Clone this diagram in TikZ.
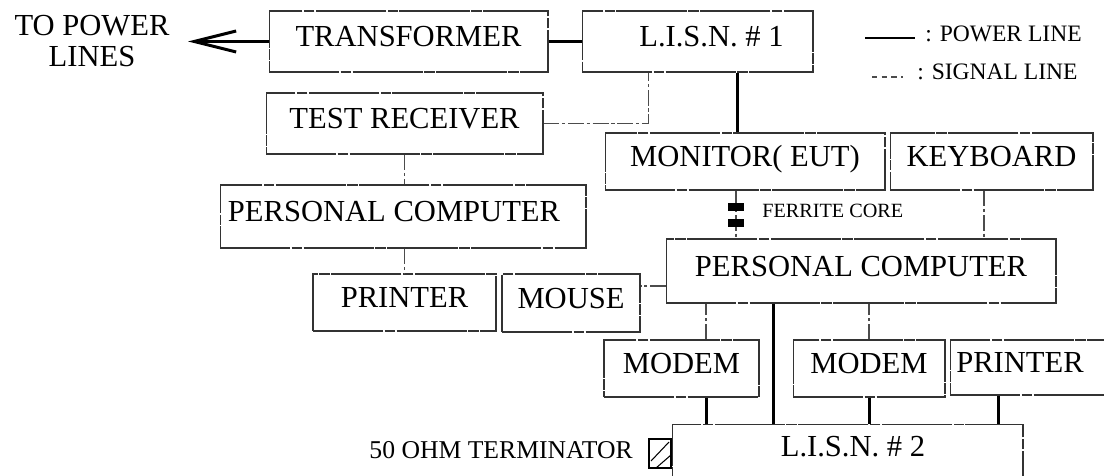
\documentclass[tikz,border=0pt]{standalone}
\usepackage{fontspec}
\setmainfont{Liberation Serif}
\usetikzlibrary{arrows.meta,calc}
\newcommand{\boxfont}{\fontsize{17.4pt}{17.6pt}\selectfont}
\newcommand{\legfont}{\fontsize{13.4pt}{16pt}\selectfont}
\newcommand{\termfont}{\fontsize{14.6pt}{16pt}\selectfont}
\newcommand{\corefont}{\fontsize{11.5pt}{14pt}\selectfont}

\begin{document}
\begin{tikzpicture}[x=0.02cm, y=-0.02cm]
    \tikzstyle{every node}=[inner sep=0pt, font=\boxfont]
    \tikzstyle{box}=[draw=black!80, line width=0.6pt,
                     dash pattern=on 40pt off 0.8pt on 6pt off 0.8pt,
                     text height=12pt, text depth=6pt]
    \tikzstyle{power}=[line width=1.7pt]
    \tikzstyle{signal}=[draw=black!70, line width=0.6pt,
                        dash pattern=on 9pt off 1.5pt on 2pt off 1.5pt]
    \tikzstyle{core}=[fill=black, minimum width=0.32cm, minimum height=0.18cm]

    \useasboundingbox (0,0) rectangle (1104,476);

      \node[box, minimum width=5.58cm, minimum height=1.22cm] (tr) at (408.5,41.5) {TRANSFORMER};
      \node[box, minimum width=4.62cm, minimum height=1.22cm] (lisn1) at (697.5,41.5) {\hspace*{0.56cm}L.I.S.N. \# 1};
      \node[box, minimum width=5.54cm, minimum height=1.22cm] (rcv) at (404.5,123.5) {TEST RECEIVER};
      \node[box, minimum width=5.6cm, minimum height=1.14cm] (mon) at (745,161.5) {MONITOR( EUT)};
      \node[box, minimum width=4.06cm, minimum height=1.14cm] (kbd) at (991.5,161.5) {KEYBOARD};
      \node[box, minimum width=7.32cm, minimum height=1.26cm] (pca) at (403,216.5) {PERSONAL COMPUTER\hspace*{0.36cm}};
      \node[box, minimum width=3.66cm, minimum height=1.14cm] (pra) at (404.5,302.5) {PRINTER};
      \node[box, minimum width=2.76cm, minimum height=1.16cm] (mouse) at (571,303) {MOUSE};
      \node[box, minimum width=7.8cm, minimum height=1.28cm] (pcb) at (861,271) {PERSONAL COMPUTER};
      \node[box, minimum width=3.1cm, minimum height=1.14cm] (mda) at (681.5,368.5) {MODEM};
      \node[box, minimum width=3.04cm, minimum height=1.14cm] (mdb) at (869,368.5) {MODEM};
      \node[box, minimum width=3.2cm, minimum height=1.1cm] (prb) at (1030,367.5) {PRINTER\hspace*{0.4cm}};
      \node[box, anchor=north, minimum width=7.02cm, minimum height=1.6cm] (lisn2) at (847.5,424) {};
      \node (lisn2t) at (853,447) {L.I.S.N. \# 2};

      \node[align=center] (lines) at (92,41) {TO POWER\\LINES};
      \coordinate (tip) at (188,43);

      \node[font=\legfont, anchor=west] (lgp) at (925,34) {: POWER LINE};
      \node[font=\legfont, anchor=west] (lgs) at (917,72) {: SIGNAL LINE};
      \draw[power] ($(lgp.west)+(-60,4)$) -- ($(lgp.west)+(-10,4)$);
      \draw[signal, dash pattern=on 3pt off 2.5pt] ($(lgs.west)+(-45,5)$) -- ($(lgs.west)+(-14,5)$);

      \draw[power, -{Straight Barb[length=0.84cm, width=0.42cm]}] (tr.west) -- (tip |- tr.west);
      \draw[power] (tr) -- (lisn1);
      \draw[signal] (rcv.east) -| ($(lisn1.south west)+(67,0)$);
      \draw[power] ($(lisn1.south)+(40,0)$) coordinate (p1) -- (p1 |- mon.north);
      \draw[signal] (rcv.south) -- (rcv.south |- pca.north);
      \draw[signal] (pca.south -| pra.north) -- (pra.north);
      \draw[signal] ($(mon.south)+(-9,0)$) coordinate (f1) -- (f1 |- pcb.north);
      \draw[signal] ($(kbd.south)+(-7.5,0)$) coordinate (k1) -- (k1 |- pcb.north);
      \draw[signal] ($(pcb.west)+(0,15)$) coordinate (m1) -- (m1 -| mouse.east);
      \draw[signal] ($(mda.north)+(24.5,0)$) coordinate (d1) -- (d1 |- pcb.south);
      \draw[signal] (mdb.north) -- (mdb.north |- pcb.south);
      \draw[power] ($(pcb.south)+(-88,0)$) coordinate (p2) -- (p2 |- lisn2.north);
      \draw[power] ($(mda.south)+(24.5,0)$) coordinate (p3) -- (p3 |- lisn2.north);
      \draw[power] (mdb.south) -- (mdb.south |- lisn2.north);
      \draw[power] ($(prb.south)+(-32,0)$) coordinate (p4) -- (p4 |- lisn2.north);

      \node[core] (fc1) at (736,207) {};
      \node[core] (fc2) at (736,223) {};
      \node[font=\corefont, anchor=west] (fct) at (762,211) {FERRITE CORE};

      \node[draw, line width=0.6pt, minimum width=0.44cm, minimum height=0.58cm] (term) at (660,453.5) {};
      \draw[line width=0.6pt] ($(term)+(-9,7.5)$) -- ($(term)+(9,-11.5)$);
      \draw[line width=0.6pt] ($(term)+(-4,14.5)$) -- ($(term)+(11,1.5)$);
      \node[font=\termfont, anchor=east] (termt) at (633,450) {50 OHM TERMINATOR};
\end{tikzpicture}
\end{document}
